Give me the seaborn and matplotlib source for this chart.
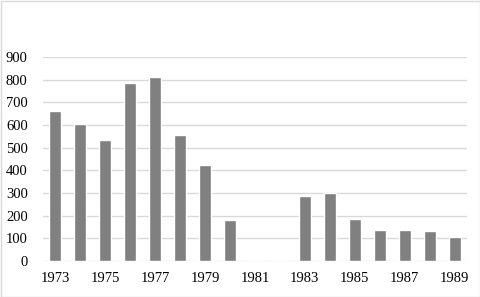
import matplotlib
matplotlib.use("Agg")
import matplotlib.pyplot as plt
import seaborn as sns
import pandas as pd
from matplotlib.patches import Rectangle

years = [str(y) for y in range(1973, 1990)]
values = [660, 605, 533, 785, 812, 556, 423, 181, 0, 0, 287, 300, 185, 137, 137, 132, 106]
tick_labels = ["1973", "1975", "1977", "1979", "1981", "1983", "1985", "1987", "1989"]
y_ticks = [0, 100, 200, 300, 400, 500, 600, 700, 800, 900]

sns.set_style("white")
plt.rcParams['font.family'] = ['Liberation Serif', 'DejaVu Serif']

df = pd.DataFrame({"year": years, "value": values})

fig = plt.figure(figsize=(4.8, 2.97), dpi=100)
ax = fig.add_axes([43/480, 1-261/297, 424/480, (261-57)/297])
sns.barplot(data=df, x="year", y="value", order=years, color="#808080",
            saturation=1, width=0.48, ax=ax, zorder=3)
ax.set_ylim(0, 900)
ax.set_xlim(-0.5, len(years)-0.5)
ax.set_yticks(y_ticks)
ax.set_yticklabels([str(t) for t in y_ticks], fontsize=10.5, color="black")
ax.set_xticks([years.index(t) for t in tick_labels])
ax.set_xticklabels(tick_labels, fontsize=10.5, color="black")
ax.yaxis.grid(True, color="#d9d9d9", linewidth=1, zorder=0)
ax.set_axisbelow(True)
ax.tick_params(axis='y', length=0, pad=11)
ax.tick_params(axis='x', length=0, pad=8)
ax.set_xlabel("")
ax.set_ylabel("")
for s in ax.spines.values():
    s.set_visible(False)
fig.patches.append(Rectangle((0.5/480, 0.5/297), 1-1/480, 1-1/297, transform=fig.transFigure,
                             fill=False, edgecolor="#d9d9d9", linewidth=1))
fig.savefig("out.png", dpi=100)
